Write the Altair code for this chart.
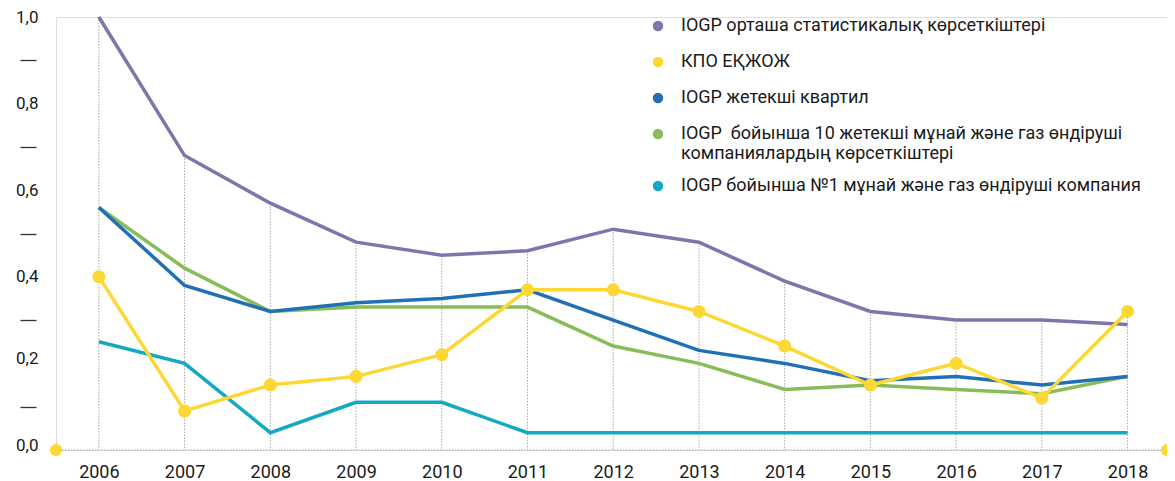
import altair as alt
import pandas as pd

years = [2006, 2007, 2008, 2009, 2010, 2011, 2012, 2013, 2014, 2015, 2016, 2017, 2018]

s_avg = [1.00, 0.68, 0.57, 0.48, 0.45, 0.46, 0.51, 0.48, 0.39, 0.32, 0.30, 0.30, 0.29]
s_kpo = [0.40, 0.09, 0.15, 0.17, 0.22, 0.37, 0.37, 0.32, 0.24, 0.15, 0.20, 0.12, 0.32]
s_quart = [0.56, 0.38, 0.32, 0.34, 0.35, 0.37, 0.30, 0.23, 0.20, 0.16, 0.17, 0.15, 0.17]
s_top10 = [0.56, 0.42, 0.32, 0.33, 0.33, 0.33, 0.24, 0.20, 0.14, 0.15, 0.14, 0.13, 0.17]
s_no1 = [0.25, 0.20, 0.04, 0.11, 0.11, 0.04, 0.04, 0.04, 0.04, 0.04, 0.04, 0.04, 0.04]

names = [
    "IOGP орташа статистикалық көрсеткіштері",
    "КПО ЕҚЖОЖ",
    "IOGP жетекші квартил",
    "IOGP\u00a0 бойынша 10 жетекші мұнай және газ өндіруші|компаниялардың көрсеткіштері",
    "IOGP бойынша №1 мұнай және газ өндіруші компания",
]
colors = ["#7b77aa", "#fdd835", "#2170b6", "#88bc58", "#12a9c5"]
y_ticks = [0.0, 0.1, 0.2, 0.3, 0.4, 0.5, 0.6, 0.7, 0.8, 0.9, 1.0]

# drawing order: bottom to top
draw = [(names[4], s_no1), (names[3], s_top10), (names[2], s_quart),
        (names[0], s_avg), (names[1], s_kpo)]
rows = []
for nm, vals in draw:
    for y, v in zip(years, vals):
        rows.append({"year": y, "value": v, "series": nm})
df = pd.DataFrame(rows)
kpo_df = pd.DataFrame({"year": years, "value": s_kpo})

W, H = 1111, 433
FONT = "Roboto"

xscale = alt.Scale(domain=[2005.5, 2018.46], nice=False, zero=False)
yscale = alt.Scale(domain=[0, 1])

xenc = alt.X("year:Q", scale=xscale,
             axis=alt.Axis(title=None, values=years, format="d", labelAngle=0, ticks=False,
                           domain=False, grid=False, labelFontSize=18, labelColor="#1a1a1a",
                           labelFont=FONT, labelPadding=13, labelFlush=False))

odd_test = "round(datum.value*10) % 2 == 1"

grid = alt.Chart(df).mark_rule(color="#a8a8a8", strokeWidth=1, strokeDash=[1.5, 1.5]).encode(
    x=alt.X("year:Q", scale=xscale),
    y=alt.Y("max(value):Q", scale=yscale),
    y2=alt.datum(0),
)

base_rule = alt.Chart(pd.DataFrame({"a": [0]})).mark_rule(
    color="#a8a8a8", strokeWidth=1, strokeDash=[1.5, 1.5]).encode(
    x=alt.value(0), x2=alt.value(W), y=alt.datum(0, scale=yscale))

dot_l = alt.Chart(pd.DataFrame({"a": [0]})).mark_circle(size=150, color="#fdd835", opacity=1).encode(
    x=alt.value(0), y=alt.datum(0, scale=yscale))
dot_r = alt.Chart(pd.DataFrame({"a": [0]})).mark_circle(size=150, color="#fdd835", opacity=1).encode(
    x=alt.value(W), y=alt.datum(0, scale=yscale))

lines = alt.Chart(df).mark_line(strokeWidth=3.5).encode(
    x=xenc,
    y=alt.Y("value:Q", scale=yscale,
            axis=alt.Axis(title=None, values=y_ticks,
                          labelExpr=f"{odd_test} ? '' : replace(format(datum.value, '.1f'), '.', ',')",
                          labelOffset={"condition": {"test": "datum.value < 0.3", "value": -5},
                                       "value": 0},
                          ticks=True, tickSize=16, tickWidth=1.3,
                          tickColor={"condition": {"test": odd_test, "value": "#333333"},
                                     "value": "transparent"},
                          offset=20, domain=False, grid=False, labelFontSize=17,
                          labelColor="#1a1a1a", labelFont=FONT, labelPadding=-18)),
    color=alt.Color("series:N", scale=alt.Scale(domain=names, range=colors),
                    legend=alt.Legend(title=None, orient="none", legendX=593, legendY=0,
                                      symbolType="circle", symbolSize=30, symbolStrokeWidth=5,
                                      labelFontSize=18, labelFont=FONT, labelColor="#1a1a1a",
                                      labelLimit=600, labelOffset=14, rowPadding=10,
                                      labelExpr="split(datum.label, '|')")),
    detail="series:N",
)

pts = alt.Chart(kpo_df).mark_circle(size=170, color="#fdd835", opacity=1).encode(
    x=alt.X("year:Q", scale=xscale),
    y=alt.Y("value:Q", scale=yscale),
)

chart = alt.layer(grid, base_rule, lines, pts, dot_l, dot_r).properties(
    width=W, height=H,
    autosize=alt.AutoSizeParams(type="none"),
    padding={"left": 48, "top": 9, "right": 0, "bottom": 30},
).configure_view(stroke=None).configure(font=FONT)

chart.save("out.html", embed_options={"renderer": "svg", "actions": False})
